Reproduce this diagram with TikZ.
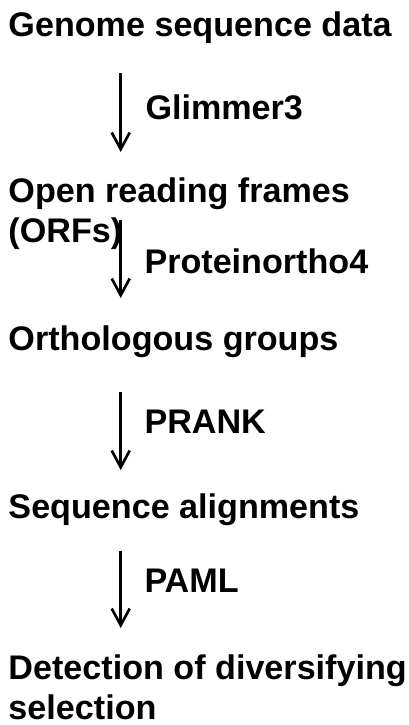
\documentclass[tikz,border=0pt]{standalone}
\usepackage{fontspec}
\setmainfont{Liberation Sans}
\usetikzlibrary{arrows.meta}
\begin{document}
\begin{tikzpicture}[x=0.75pt,y=-0.75pt,
  stepbox/.style={anchor=base west,inner sep=0pt,outer sep=0pt,align=left,
    font=\fontsize{25.6}{29.6}\selectfont\bfseries},
  toollabel/.style={anchor=base west,inner sep=0pt,outer sep=0pt,
    font=\fontsize{25.6}{29.6}\selectfont\bfseries},
  flow/.style={line width=2pt,-{Straight Barb[length=12.5pt,width=13.5pt,line width=2pt]}}]
\useasboundingbox[fill=white] (0,0) rectangle (409,725);
\node[stepbox] (genome) at (8.5,36) {Genome sequence data};
\node[stepbox] (orfs) at (8.5,242) {Open reading frames\\(ORFs)};
\node[stepbox] (ortho) at (8.5,350) {Orthologous groups};
\node[stepbox] (align) at (8.5,518) {Sequence alignments};
\node[stepbox] (detect) at (8.5,719) {Detection of diversifying\\selection};
\node[toollabel] (glimmer) at (145.5,119) {Glimmer3};
\node[toollabel] (proteinortho) at (144.5,273) {Proteinortho4};
\node[toollabel] (prank) at (144.5,433) {PRANK};
\node[toollabel] (paml) at (144.5,592) {PAML};
\coordinate (s1) at (120.7,73);  \coordinate (e1) at (120.7,152);
\coordinate (s2) at (120.7,220); \coordinate (e2) at (120.7,298);
\coordinate (s3) at (120.7,392); \coordinate (e3) at (120.7,470);
\coordinate (s4) at (120.7,551); \coordinate (e4) at (120.7,628);
\draw[flow] (s1) -- (e1);
\draw[flow] (s2) -- (e2);
\draw[flow] (s3) -- (e3);
\draw[flow] (s4) -- (e4);
\end{tikzpicture}
\end{document}
